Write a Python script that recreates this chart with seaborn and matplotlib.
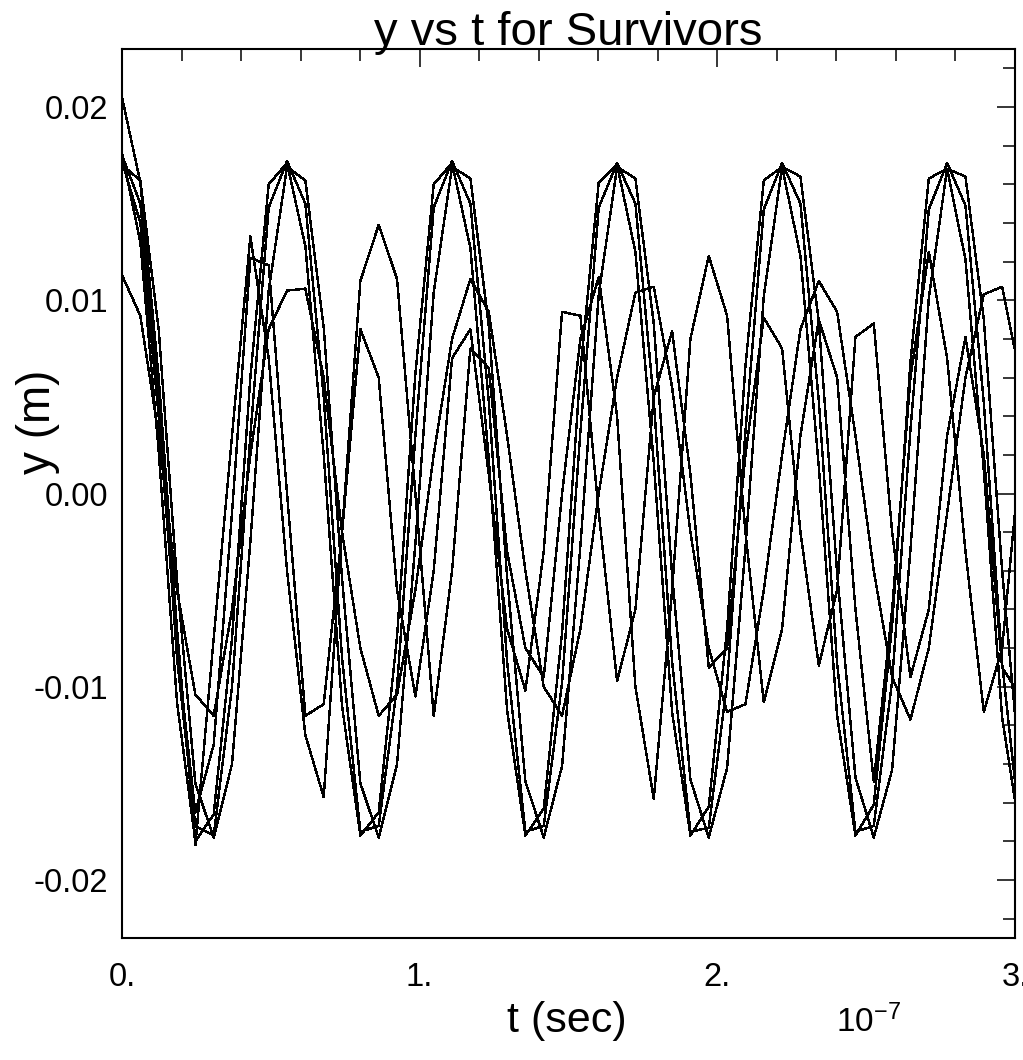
import numpy as np
import pandas as pd
import matplotlib
matplotlib.use("Agg")
import matplotlib.pyplot as plt
from matplotlib.ticker import MultipleLocator, FuncFormatter
import seaborn as sns

# ---- data ----
dt = 6.16e-9  # sample spacing in seconds
n_samples = 50
t_sec = [k * dt for k in range(n_samples)]

trace_a1 = [0.0175, 0.0150, 0.0050, -0.0085, -0.0172, -0.0177, -0.0100, 0.0030, 0.0148,
            0.0172, 0.0150, 0.0050, -0.0085, -0.0175, -0.0172, -0.0100, 0.0030, 0.0148,
            0.0172, 0.0150, 0.0048, -0.0087, -0.0175, -0.0172, -0.0098, 0.0032, 0.0148,
            0.0171, 0.0150, 0.0048, -0.0087, -0.0175, -0.0173, -0.0098, 0.0032, 0.0147,
            0.0171, 0.0150, 0.0048, -0.0088, -0.0175, -0.0172, -0.0097, 0.0033, 0.0147,
            0.0171, 0.0149, 0.0047, -0.0088, -0.0175]
trace_a2 = [0.0176, 0.0130, 0.0022, -0.0108, -0.0180, -0.0166, -0.0075, 0.0060, 0.0160,
            0.0171, 0.0128, 0.0020, -0.0110, -0.0177, -0.0165, -0.0074, 0.0062, 0.0160,
            0.0171, 0.0127, 0.0018, -0.0112, -0.0177, -0.0163, -0.0072, 0.0064, 0.0161,
            0.0170, 0.0125, 0.0016, -0.0113, -0.0177, -0.0162, -0.0070, 0.0066, 0.0162,
            0.0169, 0.0123, 0.0014, -0.0115, -0.0177, -0.0161, -0.0068, 0.0068, 0.0163,
            0.0168, 0.0121, 0.0012, -0.0116, -0.0177]
trace_a3 = [0.0170, 0.0162, 0.0085, -0.0045, -0.0150, -0.0178, -0.0140, -0.0025, 0.0105,
            0.0169, 0.0162, 0.0086, -0.0044, -0.0150, -0.0178, -0.0140, -0.0026, 0.0104,
            0.0169, 0.0163, 0.0087, -0.0043, -0.0149, -0.0178, -0.0141, -0.0027, 0.0103,
            0.0169, 0.0163, 0.0088, -0.0042, -0.0148, -0.0178, -0.0142, -0.0028, 0.0102,
            0.0169, 0.0164, 0.0089, -0.0041, -0.0147, -0.0178, -0.0143, -0.0029, 0.0101,
            0.0168, 0.0164, 0.0090, -0.0040, -0.0146]
trace_s1 = [0.0205, 0.0161, 0.0060, -0.0070, -0.0182, -0.0075, 0.0030, 0.0133, 0.0070, -0.0040,
            -0.0125, -0.0157, -0.0020, 0.0110, 0.0139, 0.0111, 0.0000, -0.0115, -0.0040, 0.0075,
            0.0065, -0.0030, -0.0080, -0.0095, 0.0000, 0.0080, 0.0112, 0.0040, -0.0100, -0.0158,
            -0.0050, 0.0080, 0.0123, 0.0092, -0.0020, -0.0108, -0.0070, 0.0030, 0.0090, 0.0060,
            -0.0060, -0.0149, -0.0060, 0.0060, 0.0125, 0.0070, -0.0030, -0.0113, -0.0080, 0.0020]
trace_s2 = [0.0113, 0.0092, 0.0030, -0.0050, -0.0104, -0.0115, -0.0060, 0.0020, 0.0085, 0.0105,
            0.0106, 0.0060, -0.0020, -0.0080, -0.0115, -0.0104, -0.0050, 0.0020, 0.0080, 0.0111,
            0.0094, 0.0030, -0.0040, -0.0100, -0.0115, -0.0070, 0.0000, 0.0060, 0.0104, 0.0107,
            0.0055, -0.0020, -0.0080, -0.0113, -0.0109, -0.0050, 0.0020, 0.0085, 0.0110, 0.0094,
            0.0030, -0.0040, -0.0095, -0.0117, -0.0080, -0.0010, 0.0060, 0.0103, 0.0107, 0.0060]
trace_s3 = [0.0172, 0.0140, 0.0040, -0.0080, -0.0165, -0.0130, -0.0010, 0.0122, 0.0118, 0.0000,
            -0.0115, -0.0109, -0.0020, 0.0085, 0.0060, -0.0050, -0.0105, -0.0040, 0.0070, 0.0085,
            0.0010, -0.0070, -0.0102, -0.0030, 0.0094, 0.0092, -0.0010, -0.0097, -0.0060, 0.0050,
            0.0084, 0.0010, -0.0090, -0.0080, 0.0020, 0.0091, 0.0075, -0.0020, -0.0089, -0.0050,
            0.0081, 0.0088, -0.0020, -0.0095, -0.0060, 0.0030, 0.0081, 0.0020, -0.0090, -0.0105]

x_tick_labels = ["0.", "1.", "2.", "3."]
y_tick_values = [-0.02, -0.01, 0.00, 0.01, 0.02]

traces = {"a1": trace_a1, "a2": trace_a2, "a3": trace_a3,
          "s1": trace_s1, "s2": trace_s2, "s3": trace_s3}

rows = []
for name, vals in traces.items():
    for tt, yy in zip(t_sec, vals):
        rows.append({"particle": name, "t": tt, "y": yy})
df = pd.DataFrame(rows)

# ---- style ----
sns.set_style("white")
plt.rcParams["font.family"] = ["Liberation Sans", "DejaVu Sans"]
plt.rcParams["mathtext.fontset"] = "custom"
plt.rcParams["mathtext.rm"] = "Liberation Sans"
plt.rcParams["mathtext.it"] = "Liberation Sans"

W, H = 1023, 1060
fig = plt.figure(figsize=(W / 100, H / 100), dpi=100)
ax = fig.add_axes([122 / W, 1 - 938 / H, (1015 - 122) / W, (938 - 49) / H])

sns.lineplot(data=df, x="t", y="y", hue="particle", units="particle",
             estimator=None, sort=False, palette=["black"] * len(traces),
             legend=False, linewidth=1.0, ax=ax)
for ln in ax.lines:
    ln.set_antialiased(False)

ax.set_xlim(0, 3e-7)
ax.set_ylim(-0.023, 0.023)

ax.xaxis.set_major_locator(MultipleLocator(1e-7))
ax.xaxis.set_minor_locator(MultipleLocator(0.2e-7))
ax.xaxis.set_major_formatter(FuncFormatter(lambda v, p: x_tick_labels[int(round(v / 1e-7))]
                                           if 0 <= round(v / 1e-7) < len(x_tick_labels) else ""))
ax.set_yticks(y_tick_values)
ax.yaxis.set_minor_locator(MultipleLocator(0.002))
ax.yaxis.set_major_formatter(FuncFormatter(lambda v, p: f"{v:.2f}"))

ax.tick_params(which="both", direction="in", top=True, right=True, color="black",
               width=1.1, labelsize=23.5, labelcolor="black")
ax.tick_params(which="major", length=13)
ax.tick_params(which="minor", length=8.5)
ax.tick_params(axis="x", which="major", pad=17)
ax.tick_params(axis="y", which="major", pad=10)
for sp in ax.spines.values():
    sp.set_color("black")
    sp.set_linewidth(1.5)
ax.set_xlabel("")
ax.set_ylabel("")

fig.text(568 / W, 1 - 45 / H, "y vs t for Survivors", ha="center", va="baseline",
         fontsize=34, color="black")
fig.text(567 / W, 1 - 1032 / H, "t (sec)", ha="center", va="baseline",
         fontsize=31, color="black")
fig.text(836 / W, 1 - 1032 / H, r"$\mathregular{10^{-7}}$", ha="left", va="baseline",
         fontsize=24, color="black")
fig.text(38 / W, 1 - 422 / H, "y (m)", ha="center", va="center", rotation=90,
         fontsize=33, color="black")

fig.savefig("out.png", dpi=100, facecolor="white")
